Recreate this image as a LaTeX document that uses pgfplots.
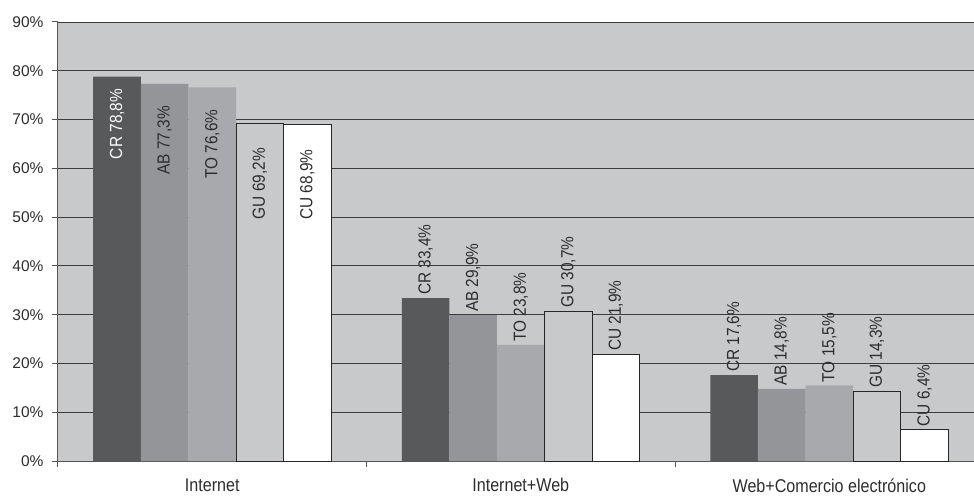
\documentclass[border=0pt]{standalone}
\usepackage{fontspec}
\setmainfont{Liberation Sans}
\newfontfamily\condfont[FakeStretch=0.87]{Liberation Sans}
\newfontfamily\labfont[FakeStretch=0.88]{Liberation Sans}
\usepackage{pgfplots}
\pgfplotsset{compat=1.18}
\definecolor{bggray}{RGB}{200,201,203}
\definecolor{crcol}{RGB}{88,89,91}
\definecolor{abcol}{RGB}{147,149,152}
\definecolor{tocol}{RGB}{167,169,172}
\definecolor{gridcol}{RGB}{60,60,60}
\definecolor{axiscol}{RGB}{85,85,85}
\definecolor{txtcol}{RGB}{45,45,45}
\newcommand\labf{\labfont\fontsize{17.5}{17.5}\selectfont}
\tikzset{labpos/.code n args={3}{%
  \ifdim#1pt>50pt\relax
    \tikzset{anchor=east, inner sep=#2, text=#3}%
  \else
    \tikzset{anchor=west, inner sep=3pt, text=txtcol}%
  \fi}}
\begin{document}
\begin{tikzpicture}
\begin{axis}[
  scale only axis, width=916pt, height=439pt,
  xmin=-0.5, xmax=2.469, ymin=0, ymax=90,
  axis background/.style={fill=bggray},
  axis x line*=bottom, axis y line*=left,
  axis line style={draw=axiscol, line width=1pt},
  ytick={0,10,...,90},
  yticklabel={\pgfmathprintnumber{\tick}\%},
  /pgf/number format/assume math mode=true,
  ymajorgrids,
  major grid style={draw=gridcol, line width=0.8pt},
  xtick={0,1,2},
  xticklabels={Internet, Internet+Web, Web+Comercio electrónico},
  minor xtick={-0.5,0.5,1.5},
  tick align=outside,
  major tick length=6pt, minor tick length=6pt,
  tick style={draw=axiscol, line width=1pt},
  every major x tick/.append style={draw=none},
  yticklabel style={font=\fontsize{15.5}{16}\selectfont, text=txtcol, xshift=-5pt},
  xticklabel style={font=\condfont\fontsize{18.5}{19}\selectfont, text=txtcol, yshift=-8pt},
  ybar=0pt, bar width=0.1543,
  visualization depends on={rawy \as \rawy},
  nodes near coords style={rotate=90, font=\labf},
]
\addplot[fill=crcol, draw=none,
  nodes near coords={CR \pgfmathprintnumber[fixed,fixed zerofill,precision=1,use comma]{\pgfplotspointmeta}\%},
  every node near coord/.append style={labpos={\rawy}{12pt}{white}}]
  coordinates {(0,78.8) (1,33.4) (2,17.6)};
\addplot[fill=abcol, draw=none,
  nodes near coords={AB \pgfmathprintnumber[fixed,fixed zerofill,precision=1,use comma]{\pgfplotspointmeta}\%},
  every node near coord/.append style={labpos={\rawy}{22pt}{txtcol}}]
  coordinates {(0,77.3) (1,29.9) (2,14.8)};
\addplot[fill=tocol, draw=none,
  nodes near coords={TO \pgfmathprintnumber[fixed,fixed zerofill,precision=1,use comma]{\pgfplotspointmeta}\%},
  every node near coord/.append style={labpos={\rawy}{22pt}{txtcol}}]
  coordinates {(0,76.6) (1,23.8) (2,15.5)};
\addplot[fill=bggray, draw=black!85, line width=1pt,
  nodes near coords={GU \pgfmathprintnumber[fixed,fixed zerofill,precision=1,use comma]{\pgfplotspointmeta}\%},
  every node near coord/.append style={labpos={\rawy}{24pt}{txtcol}}]
  coordinates {(0,69.2) (1,30.7) (2,14.3)};
\addplot[fill=white, draw=black!85, line width=1pt,
  nodes near coords={CU \pgfmathprintnumber[fixed,fixed zerofill,precision=1,use comma]{\pgfplotspointmeta}\%},
  every node near coord/.append style={labpos={\rawy}{24pt}{txtcol}}]
  coordinates {(0,68.9) (1,21.9) (2,6.4)};
\end{axis}
\pgfresetboundingbox
\path[use as bounding box] (-58pt,-35pt) rectangle (916pt,461pt);
\end{tikzpicture}
\end{document}
